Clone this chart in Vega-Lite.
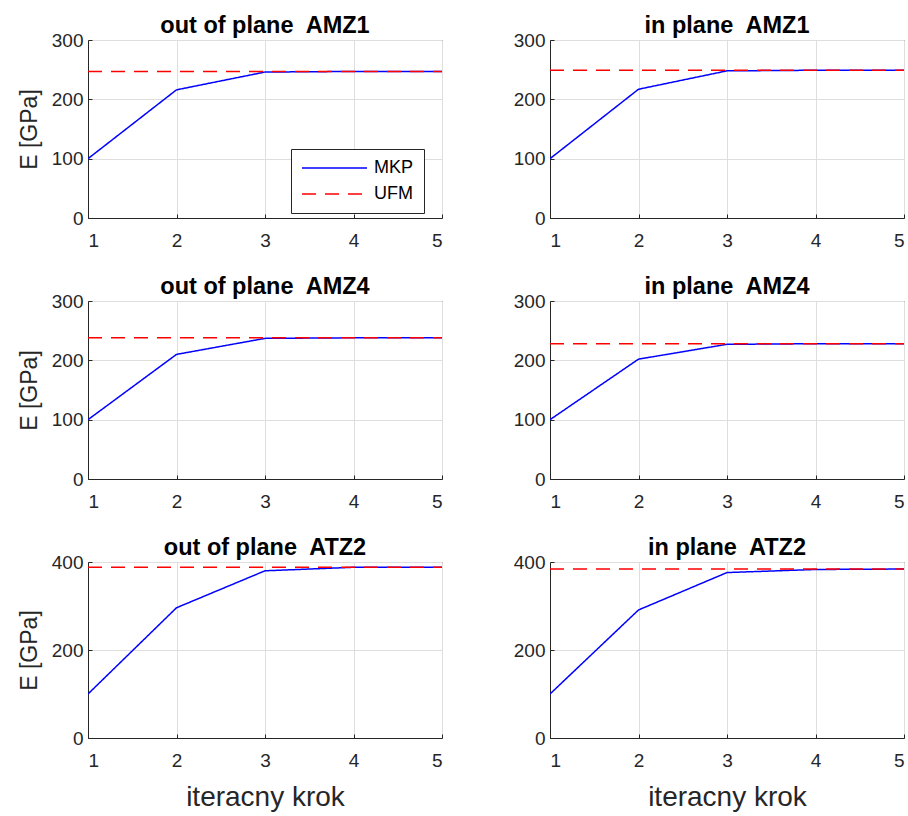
{
  "$schema": "https://vega.github.io/schema/vega-lite/v6.json",
  "background": "white",
  "padding": {"left": 17, "top": 13, "right": 5, "bottom": 5},
  "bounds": "flush",
  "columns": 2,
  "spacing": {"row": 83, "column": 108},
  "data": {"values": [
    {"panel": "A", "series": "MKP", "krok": 1, "E": 100}, {"panel": "A", "series": "MKP", "krok": 2, "E": 216}, {"panel": "A", "series": "MKP", "krok": 3, "E": 246}, {"panel": "A", "series": "MKP", "krok": 4, "E": 247}, {"panel": "A", "series": "MKP", "krok": 5, "E": 247},
    {"panel": "A", "series": "UFM", "krok": 1, "E": 247}, {"panel": "A", "series": "UFM", "krok": 2, "E": 247}, {"panel": "A", "series": "UFM", "krok": 3, "E": 247}, {"panel": "A", "series": "UFM", "krok": 4, "E": 247}, {"panel": "A", "series": "UFM", "krok": 5, "E": 247},
    {"panel": "B", "series": "MKP", "krok": 1, "E": 100}, {"panel": "B", "series": "MKP", "krok": 2, "E": 217}, {"panel": "B", "series": "MKP", "krok": 3, "E": 248}, {"panel": "B", "series": "MKP", "krok": 4, "E": 249}, {"panel": "B", "series": "MKP", "krok": 5, "E": 249},
    {"panel": "B", "series": "UFM", "krok": 1, "E": 249}, {"panel": "B", "series": "UFM", "krok": 2, "E": 249}, {"panel": "B", "series": "UFM", "krok": 3, "E": 249}, {"panel": "B", "series": "UFM", "krok": 4, "E": 249}, {"panel": "B", "series": "UFM", "krok": 5, "E": 249},
    {"panel": "C", "series": "MKP", "krok": 1, "E": 100}, {"panel": "C", "series": "MKP", "krok": 2, "E": 210}, {"panel": "C", "series": "MKP", "krok": 3, "E": 237}, {"panel": "C", "series": "MKP", "krok": 4, "E": 238}, {"panel": "C", "series": "MKP", "krok": 5, "E": 238},
    {"panel": "C", "series": "UFM", "krok": 1, "E": 238}, {"panel": "C", "series": "UFM", "krok": 2, "E": 238}, {"panel": "C", "series": "UFM", "krok": 3, "E": 238}, {"panel": "C", "series": "UFM", "krok": 4, "E": 238}, {"panel": "C", "series": "UFM", "krok": 5, "E": 238},
    {"panel": "D", "series": "MKP", "krok": 1, "E": 100}, {"panel": "D", "series": "MKP", "krok": 2, "E": 202}, {"panel": "D", "series": "MKP", "krok": 3, "E": 227}, {"panel": "D", "series": "MKP", "krok": 4, "E": 228}, {"panel": "D", "series": "MKP", "krok": 5, "E": 228},
    {"panel": "D", "series": "UFM", "krok": 1, "E": 228}, {"panel": "D", "series": "UFM", "krok": 2, "E": 228}, {"panel": "D", "series": "UFM", "krok": 3, "E": 228}, {"panel": "D", "series": "UFM", "krok": 4, "E": 228}, {"panel": "D", "series": "UFM", "krok": 5, "E": 228},
    {"panel": "E", "series": "MKP", "krok": 1, "E": 100}, {"panel": "E", "series": "MKP", "krok": 2, "E": 296}, {"panel": "E", "series": "MKP", "krok": 3, "E": 380}, {"panel": "E", "series": "MKP", "krok": 4, "E": 388}, {"panel": "E", "series": "MKP", "krok": 5, "E": 388},
    {"panel": "E", "series": "UFM", "krok": 1, "E": 388}, {"panel": "E", "series": "UFM", "krok": 2, "E": 388}, {"panel": "E", "series": "UFM", "krok": 3, "E": 388}, {"panel": "E", "series": "UFM", "krok": 4, "E": 388}, {"panel": "E", "series": "UFM", "krok": 5, "E": 388},
    {"panel": "F", "series": "MKP", "krok": 1, "E": 100}, {"panel": "F", "series": "MKP", "krok": 2, "E": 291}, {"panel": "F", "series": "MKP", "krok": 3, "E": 376}, {"panel": "F", "series": "MKP", "krok": 4, "E": 383}, {"panel": "F", "series": "MKP", "krok": 5, "E": 384},
    {"panel": "F", "series": "UFM", "krok": 1, "E": 384}, {"panel": "F", "series": "UFM", "krok": 2, "E": 384}, {"panel": "F", "series": "UFM", "krok": 3, "E": 384}, {"panel": "F", "series": "UFM", "krok": 4, "E": 384}, {"panel": "F", "series": "UFM", "krok": 5, "E": 384}
  ]},
  "resolve": {
    "scale": {"color": "independent", "strokeDash": "independent", "x": "independent", "y": "independent"},
    "legend": {"color": "independent", "strokeDash": "independent"}
  },
  "concat": [
    {
      "width": 354, "height": 178,
      "title": {"text": "out of plane\u00a0 AMZ1"},
      "transform": [{"filter": {"field": "panel", "equal": "A"}}],
      "mark": {"type": "line", "strokeWidth": 1.5, "clip": true},
      "encoding": {
        "x": {"field": "krok", "type": "quantitative", "scale": {"domain": [1, 5], "nice": false, "zero": false}, "axis": {"values": [1, 2, 3, 4, 5], "format": "d", "title": null}},
        "y": {"field": "E", "type": "quantitative", "scale": {"domain": [0, 300], "nice": false}, "axis": {"values": [0, 100, 200, 300], "format": "d", "title": "E [GPa]"}},
        "color": {"field": "series", "type": "nominal", "scale": {"domain": ["MKP", "UFM"], "range": ["#0000ff", "#ff0000"]}, "legend": {"title": null, "orient": "none", "legendX": 203, "legendY": 109}},
        "strokeDash": {"field": "series", "type": "nominal", "scale": {"domain": ["MKP", "UFM"], "range": [[1, 0], [14, 9]]}, "legend": {"title": null, "orient": "none", "legendX": 203, "legendY": 109}}
      }
    },
    {
      "width": 354, "height": 178,
      "title": {"text": "in plane\u00a0 AMZ1"},
      "transform": [{"filter": {"field": "panel", "equal": "B"}}],
      "mark": {"type": "line", "strokeWidth": 1.5, "clip": true},
      "encoding": {
        "x": {"field": "krok", "type": "quantitative", "scale": {"domain": [1, 5], "nice": false, "zero": false}, "axis": {"values": [1, 2, 3, 4, 5], "format": "d", "title": null}},
        "y": {"field": "E", "type": "quantitative", "scale": {"domain": [0, 300], "nice": false}, "axis": {"values": [0, 100, 200, 300], "format": "d", "title": null}},
        "color": {"field": "series", "type": "nominal", "scale": {"domain": ["MKP", "UFM"], "range": ["#0000ff", "#ff0000"]}, "legend": null},
        "strokeDash": {"field": "series", "type": "nominal", "scale": {"domain": ["MKP", "UFM"], "range": [[1, 0], [14, 9]]}, "legend": null}
      }
    },
    {
      "width": 354, "height": 178,
      "title": {"text": "out of plane\u00a0 AMZ4"},
      "transform": [{"filter": {"field": "panel", "equal": "C"}}],
      "mark": {"type": "line", "strokeWidth": 1.5, "clip": true},
      "encoding": {
        "x": {"field": "krok", "type": "quantitative", "scale": {"domain": [1, 5], "nice": false, "zero": false}, "axis": {"values": [1, 2, 3, 4, 5], "format": "d", "title": null}},
        "y": {"field": "E", "type": "quantitative", "scale": {"domain": [0, 300], "nice": false}, "axis": {"values": [0, 100, 200, 300], "format": "d", "title": "E [GPa]"}},
        "color": {"field": "series", "type": "nominal", "scale": {"domain": ["MKP", "UFM"], "range": ["#0000ff", "#ff0000"]}, "legend": null},
        "strokeDash": {"field": "series", "type": "nominal", "scale": {"domain": ["MKP", "UFM"], "range": [[1, 0], [14, 9]]}, "legend": null}
      }
    },
    {
      "width": 354, "height": 178,
      "title": {"text": "in plane\u00a0 AMZ4"},
      "transform": [{"filter": {"field": "panel", "equal": "D"}}],
      "mark": {"type": "line", "strokeWidth": 1.5, "clip": true},
      "encoding": {
        "x": {"field": "krok", "type": "quantitative", "scale": {"domain": [1, 5], "nice": false, "zero": false}, "axis": {"values": [1, 2, 3, 4, 5], "format": "d", "title": null}},
        "y": {"field": "E", "type": "quantitative", "scale": {"domain": [0, 300], "nice": false}, "axis": {"values": [0, 100, 200, 300], "format": "d", "title": null}},
        "color": {"field": "series", "type": "nominal", "scale": {"domain": ["MKP", "UFM"], "range": ["#0000ff", "#ff0000"]}, "legend": null},
        "strokeDash": {"field": "series", "type": "nominal", "scale": {"domain": ["MKP", "UFM"], "range": [[1, 0], [14, 9]]}, "legend": null}
      }
    },
    {
      "width": 354, "height": 176,
      "title": {"text": "out of plane\u00a0 ATZ2"},
      "transform": [{"filter": {"field": "panel", "equal": "E"}}],
      "mark": {"type": "line", "strokeWidth": 1.5, "clip": true},
      "encoding": {
        "x": {"field": "krok", "type": "quantitative", "scale": {"domain": [1, 5], "nice": false, "zero": false}, "axis": {"values": [1, 2, 3, 4, 5], "format": "d", "title": "iteracny krok"}},
        "y": {"field": "E", "type": "quantitative", "scale": {"domain": [0, 400], "nice": false}, "axis": {"values": [0, 200, 400], "format": "d", "title": "E [GPa]"}},
        "color": {"field": "series", "type": "nominal", "scale": {"domain": ["MKP", "UFM"], "range": ["#0000ff", "#ff0000"]}, "legend": null},
        "strokeDash": {"field": "series", "type": "nominal", "scale": {"domain": ["MKP", "UFM"], "range": [[1, 0], [14, 9]]}, "legend": null}
      }
    },
    {
      "width": 354, "height": 176,
      "title": {"text": "in plane\u00a0 ATZ2"},
      "transform": [{"filter": {"field": "panel", "equal": "F"}}],
      "mark": {"type": "line", "strokeWidth": 1.5, "clip": true},
      "encoding": {
        "x": {"field": "krok", "type": "quantitative", "scale": {"domain": [1, 5], "nice": false, "zero": false}, "axis": {"values": [1, 2, 3, 4, 5], "format": "d", "title": "iteracny krok"}},
        "y": {"field": "E", "type": "quantitative", "scale": {"domain": [0, 400], "nice": false}, "axis": {"values": [0, 200, 400], "format": "d", "title": null}},
        "color": {"field": "series", "type": "nominal", "scale": {"domain": ["MKP", "UFM"], "range": ["#0000ff", "#ff0000"]}, "legend": null},
        "strokeDash": {"field": "series", "type": "nominal", "scale": {"domain": ["MKP", "UFM"], "range": [[1, 0], [14, 9]]}, "legend": null}
      }
    }
  ],
  "config": {
    "font": "Liberation Sans",
    "view": {"stroke": "#262626", "strokeWidth": 1},
    "title": {"font": "Liberation Sans", "fontSize": 23.5, "fontWeight": "bold", "color": "#000000", "baseline": "alphabetic", "offset": -6, "frame": "group", "anchor": "middle"},
    "axis": {
      "labelFont": "Liberation Sans", "labelFontSize": 19, "labelColor": "#262626",
      "domainColor": "#262626", "domainWidth": 1,
      "tickColor": "#262626", "tickSize": -4, "ticks": true,
      "gridColor": "#dedede", "gridWidth": 1, "grid": true,
      "titleFont": "Liberation Sans", "titleColor": "#262626", "titleFontWeight": "normal"
    },
    "axisX": {"labelPadding": 17, "titleFontSize": 28, "titlePadding": 13},
    "axisY": {"labelPadding": 9, "titleFontSize": 23, "titlePadding": 10},
    "legend": {
      "labelFont": "Liberation Sans", "labelFontSize": 18, "labelColor": "#000000",
      "symbolType": "stroke", "symbolSize": 4225, "symbolStrokeWidth": 1.5,
      "clipHeight": 18,
      "strokeColor": "#262626", "fillColor": "#ffffff", "padding": 10,
      "rowPadding": 8, "labelOffset": 6, "cornerRadius": 0
    }
  }
}
